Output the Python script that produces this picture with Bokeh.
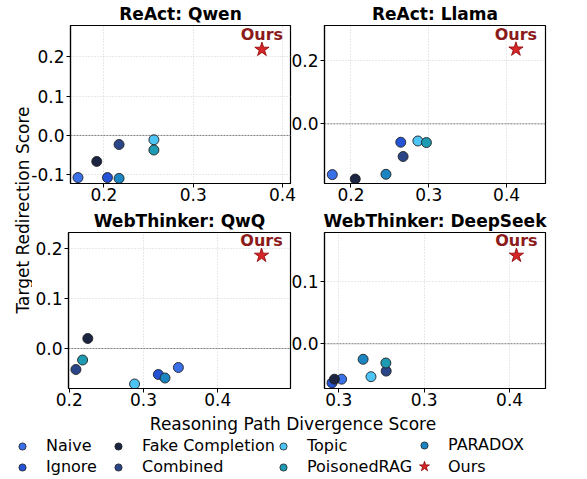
import math
from bokeh.plotting import figure
from bokeh.models import Range1d, FixedTicker, Span, Label, Legend, LegendItem
from bokeh.layouts import row, column
from bokeh.embed import file_html
from bokeh.resources import INLINE
from bokeh.core.properties import value

FONT = "DejaVu Sans"

# ---------------- data ----------------
methods = ["Naive", "Ignore", "Fake Completion", "Combined", "Topic", "PoisonedRAG", "PARADOX"]
method_colors = ["#3a70e8", "#2453d6", "#1b2440", "#2a4688", "#4ec4f4", "#1e9ab2", "#1b85c2"]
ours_label = "Ours"

titles = ["ReAct: Qwen", "ReAct: Llama", "WebThinker: QwQ", "WebThinker: DeepSeek"]

# baseline values (order = methods)
qwen_x = [0.171, 0.204, 0.192, 0.217, 0.256, 0.256, 0.217]
qwen_y = [-0.107, -0.107, -0.066, -0.023, -0.011, -0.037, -0.109]
llama_x = [0.176, 0.264, 0.2055, 0.267, 0.286, 0.297, 0.245]
llama_y = [-0.160, -0.058, -0.174, -0.103, -0.054, -0.059, -0.159]
qwq_x = [0.347, 0.320, 0.225, 0.209, 0.288, 0.218, 0.329]
qwq_y = [-0.038, -0.052, 0.020, -0.042, -0.071, -0.023, -0.059]
deepseek_x = [0.3017, 0.2961, 0.2975, 0.3278, 0.3189, 0.3276, 0.3143]
deepseek_y = [-0.057, -0.063, -0.057, -0.044, -0.053, -0.031, -0.025]

# "Ours" per panel
ours_x = [0.377, 0.412, 0.459, 0.404]
ours_y = [0.218, 0.235, 0.186, 0.142]

# axis ticks / labels per panel
x_ticks = [[0.2, 0.3, 0.4], [0.2, 0.3, 0.4], [0.2, 0.3, 0.4], [0.30, 0.35, 0.40]]
x_tick_labels = [["0.2", "0.3", "0.4"], ["0.2", "0.3", "0.4"], ["0.2", "0.3", "0.4"], ["0.3", "0.3", "0.4"]]
y_ticks = [[-0.1, 0.0, 0.1, 0.2], [0.0, 0.2], [0.0, 0.1, 0.2], [0.0, 0.1]]
y_tick_labels = [["-0.1", "0.0", "0.1", "0.2"], ["0.0", "0.2"], ["0.0", "0.1", "0.2"], ["0.0", "0.1"]]

x_label = "Reasoning Path Divergence Score"
y_label = "Target Redirection Score"

panel_x = [qwen_x, llama_x, qwq_x, deepseek_x]
panel_y = [qwen_y, llama_y, qwq_y, deepseek_y]

# axis extents (view settings)
x_lims = [(0.1626, 0.409), (0.166, 0.45), (0.199, 0.498), (0.2917, 0.421)]
y_lims = [(-0.122, 0.279), (-0.188, 0.31), (-0.080, 0.232), (-0.072, 0.179)]

STAR = "#d62728"
STAR_EDGE = "#8b0000"
OURS_TXT = "#8b1a1a"


def make_panel(i, left_border, right_border, top_border, frame_w, frame_h, bottom_border, margin=None):
    w = left_border + frame_w + right_border
    h = top_border + frame_h + bottom_border
    kw = {}
    if margin is not None:
        kw["margin"] = margin
    p = figure(width=w, height=h, output_backend="svg", toolbar_location=None,
               x_range=Range1d(*x_lims[i]), y_range=Range1d(*y_lims[i]),
               min_border_left=left_border, min_border_right=right_border,
               min_border_top=top_border, min_border_bottom=bottom_border,
               title=titles[i], **kw)
    p.border_fill_alpha = 0
    p.title.text_font = FONT
    p.title.text_font_size = "17px"
    p.title.text_font_style = "bold"
    p.title.align = "center"
    p.title.standoff = 3
    p.title.text_color = "black"
    p.outline_line_color = "black"
    p.outline_line_width = 1.2
    p.outline_line_alpha = 1

    for ax in (p.xaxis[0], p.yaxis[0]):
        ax.major_label_text_font = FONT
        ax.major_label_text_font_size = "17px"
        ax.major_label_text_color = "black"
        ax.axis_line_color = "black"
        ax.axis_line_width = 1.2
        ax.major_tick_line_color = "black"
        ax.major_tick_out = 4
        ax.major_tick_in = 0
        ax.minor_tick_line_color = None
    p.xaxis[0].major_label_standoff = 0
    p.yaxis[0].major_label_standoff = 2
    p.xaxis[0].ticker = FixedTicker(ticks=x_ticks[i])
    p.yaxis[0].ticker = FixedTicker(ticks=y_ticks[i])
    p.xaxis[0].major_label_overrides = {t: l for t, l in zip(x_ticks[i], x_tick_labels[i])}
    p.yaxis[0].major_label_overrides = {t: l for t, l in zip(y_ticks[i], y_tick_labels[i])}

    p.grid.grid_line_color = "#c8c8c8"
    p.grid.grid_line_dash = "1 2"
    p.grid.grid_line_width = 0.9
    p.grid.grid_line_alpha = 0.9

    p.add_layout(Span(location=0, dimension="width", line_color="#555555",
                      line_dash="2 1", line_width=0.8, line_alpha=0.9))

    p.scatter(x=panel_x[i], y=panel_y[i], marker="circle", size=10,
              fill_color=method_colors, line_color="#222222", line_width=0.9)
    p.scatter(x=[ours_x[i]], y=[ours_y[i]], marker="star", size=15,
              fill_color=STAR, line_color=STAR_EDGE, line_width=0.8)
    p.text(x=[ours_x[i]], y=[ours_y[i]], text=[ours_label], text_font=value(FONT),
           text_font_size="16px", text_font_style="bold", text_color=OURS_TXT,
           text_align="center", text_baseline="alphabetic", y_offset=-15)
    return p


f1 = make_panel(0, 40, 8, 25, 222, 158, 24, margin=(0, 0, 0, -4))
f2 = make_panel(1, 34, 40, 25, 223, 158, 24, margin=(0, 0, 0, -10))
f3 = make_panel(2, 40, 8, 23, 222, 158, 24, margin=(0, 0, 0, -4))
f4 = make_panel(3, 34, 40, 23, 223, 158, 24, margin=(0, 0, 0, -10))


def blank(w, h):
    q = figure(width=w, height=h, output_backend="svg", toolbar_location=None,
               x_axis_type=None, y_axis_type=None, min_border=0,
               x_range=Range1d(0, 1), y_range=Range1d(0, 1))
    q.grid.visible = False
    q.outline_line_color = None
    q.border_fill_alpha = 0
    q.background_fill_alpha = 0
    return q


ylab = blank(32, 412)
ylab.add_layout(Label(x=22, y=202.5, x_units="screen", y_units="screen", text=y_label,
                      angle=math.pi / 2, text_align="center", text_baseline="middle",
                      text_font=FONT, text_font_size="17px", text_color="black"))

bottom = blank(585, 65)
bottom.add_layout(Label(x=292.5, y=54, x_units="screen", y_units="screen", text=x_label,
                        text_align="center", text_baseline="alphabetic",
                        text_font=FONT, text_font_size="17px", text_color="black"))

nan = float("nan")
renderers = []
for m, c in zip(methods, method_colors):
    r = bottom.scatter(x=[nan], y=[nan], marker="circle", size=8, fill_color=c,
                       line_color="#222222", line_width=0.8)
    renderers.append((m, r))
rs = bottom.scatter(x=[nan], y=[nan], marker="star", size=10, fill_color=STAR,
                    line_color=STAR_EDGE, line_width=0.8)
renderers.append((ours_label, rs))


def add_legend(entries, x, y, glyph=18, standoff=15, spacing=2):
    items = [LegendItem(label=m, renderers=[r]) for m, r in entries]
    lg = Legend(items=items, location=(x, y), orientation="vertical",
                spacing=spacing, padding=0, margin=0, glyph_width=glyph, glyph_height=glyph,
                label_height=18, label_standoff=standoff, label_text_font=FONT,
                label_text_font_size="16px", label_text_color="black",
                border_line_color=None, background_fill_alpha=0)
    bottom.add_layout(lg, "center")


add_legend(renderers[0:2], 13, 1)
add_legend(renderers[2:4], 109, 1)
add_legend(renderers[4:6], 274, 1)
add_legend(renderers[6:7], 415, 23)
add_legend(renderers[7:8], 411, -2, glyph=26, standoff=11)

layout = column(
    row(ylab, column(row(f1, f2), row(f3, f4))),
    bottom,
)

open("out.html", "w").write(file_html(layout, INLINE))
